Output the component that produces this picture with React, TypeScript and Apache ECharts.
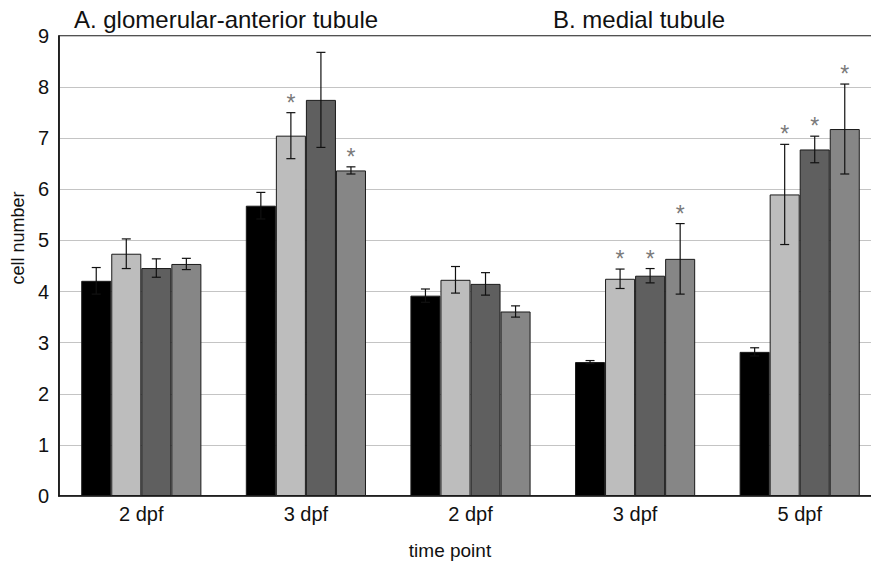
import React, { useEffect, useRef } from "react";
import * as echarts from "echarts";

const categories = ["2 dpf", "3 dpf", "2 dpf", "3 dpf", "5 dpf"];
const panelTitles = ["A. glomerular-anterior tubule", "B. medial tubule"];
const seriesNames = ["Condition 1", "Condition 2", "Condition 3", "Condition 4"];
const seriesColors = ["#000000", "#bdbdbd", "#5f5f5f", "#868686"];

const values1 = [4.21, 5.68, 3.92, 2.62, 2.82];
const values2 = [4.74, 7.05, 4.23, 4.25, 5.9];
const values3 = [4.46, 7.75, 4.15, 4.31, 6.78];
const values4 = [4.54, 6.37, 3.61, 4.64, 7.18];

const errors1 = [0.26, 0.26, 0.13, 0.03, 0.08];
const errors2 = [0.29, 0.45, 0.26, 0.19, 0.98];
const errors3 = [0.18, 0.93, 0.22, 0.14, 0.26];
const errors4 = [0.11, 0.07, 0.11, 0.69, 0.88];

const stars1 = [0, 0, 0, 0, 0];
const stars2 = [0, 1, 0, 1, 1];
const stars3 = [0, 0, 0, 1, 1];
const stars4 = [0, 1, 0, 1, 1];

const allValues = [values1, values2, values3, values4];
const allErrors = [errors1, errors2, errors3, errors4];
const allStars = [stars1, stars2, stars3, stars4];

const FONT = "'Liberation Sans', Arial, Helvetica, sans-serif";
const GAP = 0.27;

export default function App() {
  const ref = useRef<HTMLDivElement>(null);
  useEffect(() => {
    document.body.style.margin = "0";
    const chart = echarts.init(ref.current!, null, { renderer: "svg" });
    const barSeries = allValues.map((vals, s) => ({
      name: seriesNames[s],
      type: "bar",
      data: vals,
      barGap: "0%",
      barCategoryGap: `${GAP * 100}%`,
      itemStyle: { color: seriesColors[s], borderColor: "#1a1a1a", borderWidth: 1 },
      z: 2,
    }));
    const errSeries = allValues.map((vals, s) => ({
      name: seriesNames[s] + " error",
      type: "custom",
      z: 5,
      data: vals.map((v, i) => [i, v, allErrors[s][i], allStars[s][i]]),
      encode: { x: 0, y: 1 },
      renderItem: (params: any, api: any) => {
        const xi = api.value(0);
        const v = api.value(1);
        const e = api.value(2);
        const star = api.value(3);
        const band = api.size([1, 0])[0];
        const barW = (band * (1 - GAP)) / 4;
        const c = api.coord([xi, v]);
        const x = c[0] + (s - 1.5) * barW;
        const top = api.coord([xi, v + e])[1];
        const bot = api.coord([xi, v - e])[1];
        const ls = { stroke: "#111", lineWidth: 1.2 };
        const children: any[] = [
          { type: "line", shape: { x1: x, y1: top, x2: x, y2: bot }, style: ls },
          { type: "line", shape: { x1: x - 4.5, y1: top, x2: x + 4.5, y2: top }, style: ls },
          { type: "line", shape: { x1: x - 4.5, y1: bot, x2: x + 4.5, y2: bot }, style: ls },
        ];
        if (star) {
          children.push({
            type: "text",
            x: x,
            y: top - 10,
            style: {
              text: "*",
              fill: "#7a7a7a",
              font: `23px ${FONT}`,
              textAlign: "center",
              textVerticalAlign: "middle",
            },
          });
        }
        return { type: "group", children };
      },
    }));
    chart.setOption({
      animation: false,
      backgroundColor: "#ffffff",
      grid: { left: 59, top: 36, bottom: 68, right: 0, show: true, borderColor: "#1a1a1a", borderWidth: 1.5 },
      xAxis: {
        type: "category",
        data: categories,
        axisTick: { show: false },
        axisLine: { lineStyle: { color: "#111", width: 1.5 } },
        axisLabel: { color: "#111", fontSize: 20, fontFamily: FONT, margin: 8 },
        splitLine: {
          show: true,
          interval: (i: number) => i === 2,
          lineStyle: { color: "#777", width: 1 },
        },
      },
      yAxis: {
        type: "value",
        min: 0,
        max: 9,
        interval: 1,
        axisLine: { show: true, lineStyle: { color: "#111", width: 1.5 } },
        axisTick: { show: false },
        axisLabel: { color: "#111", fontSize: 20, fontFamily: FONT, margin: 10 },
        splitLine: { lineStyle: { color: "#c4c4c4", width: 1.2 } },
      },
      graphic: [
        { type: "text", x: 226, y: 19, style: { text: panelTitles[0], font: `24px ${FONT}`, fill: "#111", textAlign: "center", textVerticalAlign: "middle" } },
        { type: "text", x: 639, y: 19, style: { text: panelTitles[1], font: `24px ${FONT}`, fill: "#111", textAlign: "center", textVerticalAlign: "middle" } },
        { type: "text", x: 450, y: 550, style: { text: "time point", font: `19px ${FONT}`, fill: "#111", textAlign: "center", textVerticalAlign: "middle" } },
        { type: "text", x: 17.5, y: 238, rotation: Math.PI / 2, style: { text: "cell number", font: `18px ${FONT}`, fill: "#111", textAlign: "center", textVerticalAlign: "middle" } },
      ],
      series: [...barSeries, ...errSeries],
    });
    return () => chart.dispose();
  }, []);
  return (
    <div style={{ width: 871, height: 564, overflow: "hidden" }}>
      <div ref={ref} style={{ width: 882, height: 564 }} />
    </div>
  );
}
